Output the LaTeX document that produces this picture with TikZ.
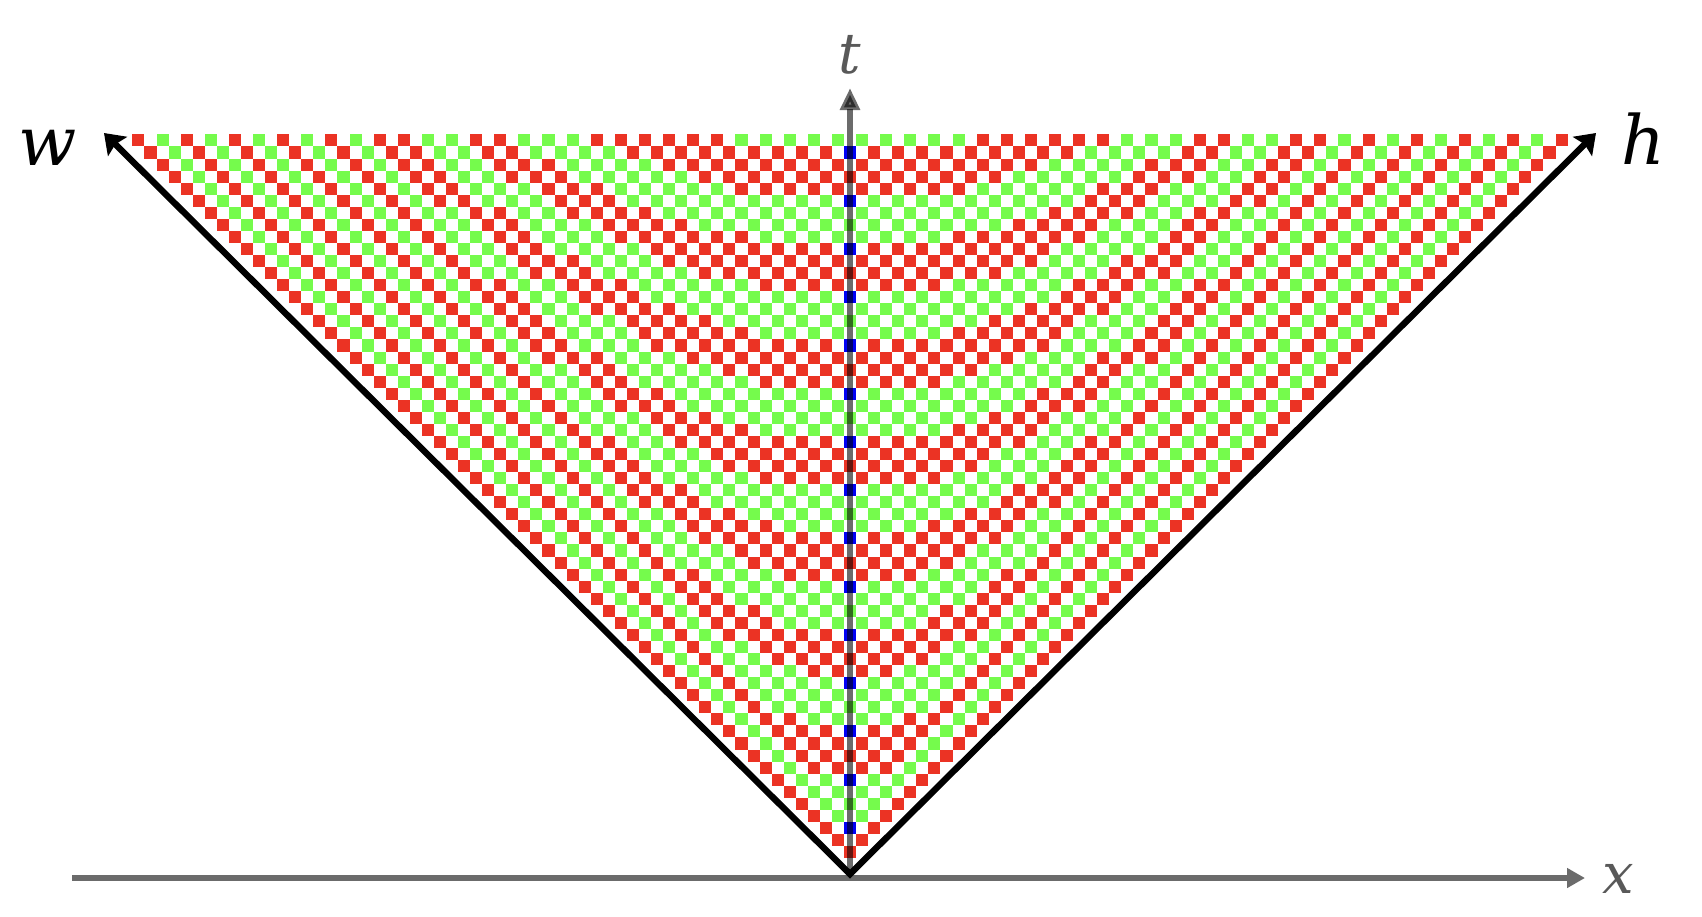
\documentclass[tikz,border=0pt]{standalone}
\usepackage{fontspec}
\newfontfamily\labfont{DejaVu Serif}
\usetikzlibrary{arrows.meta}
\definecolor{cred}{HTML}{EB3324}
\definecolor{cgreen}{HTML}{75FB4C}
\definecolor{cblue}{HTML}{0000F5}
\definecolor{labgray}{HTML}{595959}
\definecolor{axgray}{HTML}{6B6B6B}
% storage of the checkerboard amplitudes (Gaussian integers)
\def\gv#1#2#3{\csname cb:#1:\number\numexpr#2\relax:\number\numexpr#3\relax\endcsname}
\def\sv#1#2#3#4{\expandafter\xdef\csname cb:#1:\number\numexpr#2\relax:\number\numexpr#3\relax\endcsname{\number\numexpr#4\relax}}
\tikzset{
  xaxisline/.style={line width=3.1pt, draw=axgray, -{Triangle[length=9pt,width=9.5pt]}},
  taxisline/.style={line width=3pt, draw=black, draw opacity=0.58, fill opacity=0.58, -{Triangle[length=11pt,width=9.5pt]}},
  coneline/.style={line width=3.2pt, draw=black, line join=miter,
     {Stealth[length=9.5pt,width=13.4pt,inset=1.5pt]}-{Stealth[length=9.5pt,width=13.4pt,inset=1.5pt]}},
  biglab/.style={inner sep=0pt, text=black, font=\labfont\itshape\fontsize{34}{35}\selectfont},
  smalllab/.style={inner sep=0pt, text=labgray, font=\labfont\itshape\fontsize{28}{29}\selectfont},
}
\begin{document}
\begin{tikzpicture}[x=0.5pt,y=-0.5pt]
\useasboundingbox (0,0) rectangle (1702,916);
\def\p{12.06}
\foreach \w in {0,...,59}{%
  \pgfmathtruncatemacro\hmax{59-\w}%
  \foreach \h in {0,...,\hmax}{%
    \ifnum\w=0
      \sv{RL}{\w}{\h}{0}\sv{IL}{\w}{\h}{0}\sv{RR}{\w}{\h}{1}\sv{IR}{\w}{\h}{0}%
    \else\ifnum\h=0
      \sv{RL}{\w}{\h}{1}\sv{IL}{\w}{\h}{0}\sv{RR}{\w}{\h}{0}\sv{IR}{\w}{\h}{0}%
    \else
      \sv{RL}{\w}{\h}{\gv{RL}{\w-1}{\h}-\gv{IR}{\w-1}{\h}}%
      \sv{IL}{\w}{\h}{\gv{IL}{\w-1}{\h}+\gv{RR}{\w-1}{\h}}%
      \sv{RR}{\w}{\h}{\gv{RR}{\w}{\h-1}-\gv{IL}{\w}{\h-1}}%
      \sv{IR}{\w}{\h}{\gv{IR}{\w}{\h-1}+\gv{RL}{\w}{\h-1}}%
    \fi\fi
    \edef\re{\number\numexpr\gv{RL}{\w}{\h}+\gv{RR}{\w}{\h}\relax}%
    \ifnum\re>0 \def\cc{cred}\else\ifnum\re<0 \def\cc{cgreen}\else\def\cc{cblue}\fi\fi
    \fill[\cc] ({850+\p*(\h-\w)-\p/2},{852-\p*(\w+\h)-\p/2}) rectangle +(\p,\p);
  }%
}
\coordinate (O) at (850,874);
\coordinate (wT) at (104,133);
\coordinate (hT) at (1596,133);
\coordinate (xL) at (72,878);
\coordinate (xR) at (1585,878);
\coordinate (tB) at (850,876);
\coordinate (tT) at (850,88);
\draw[xaxisline] (xL) -- (xR);
\draw[coneline] (wT) -- (O) -- (hT);
\draw[taxisline] (tB) -- (tT);
\node[biglab] (wl) at (48,148) {w};
\node[biglab] (hl) at (1643,139) {h};
\node[smalllab] (tl) at (850,55) {t};
\node[smalllab] (xl) at (1618,879) {x};
\end{tikzpicture}
\end{document}
